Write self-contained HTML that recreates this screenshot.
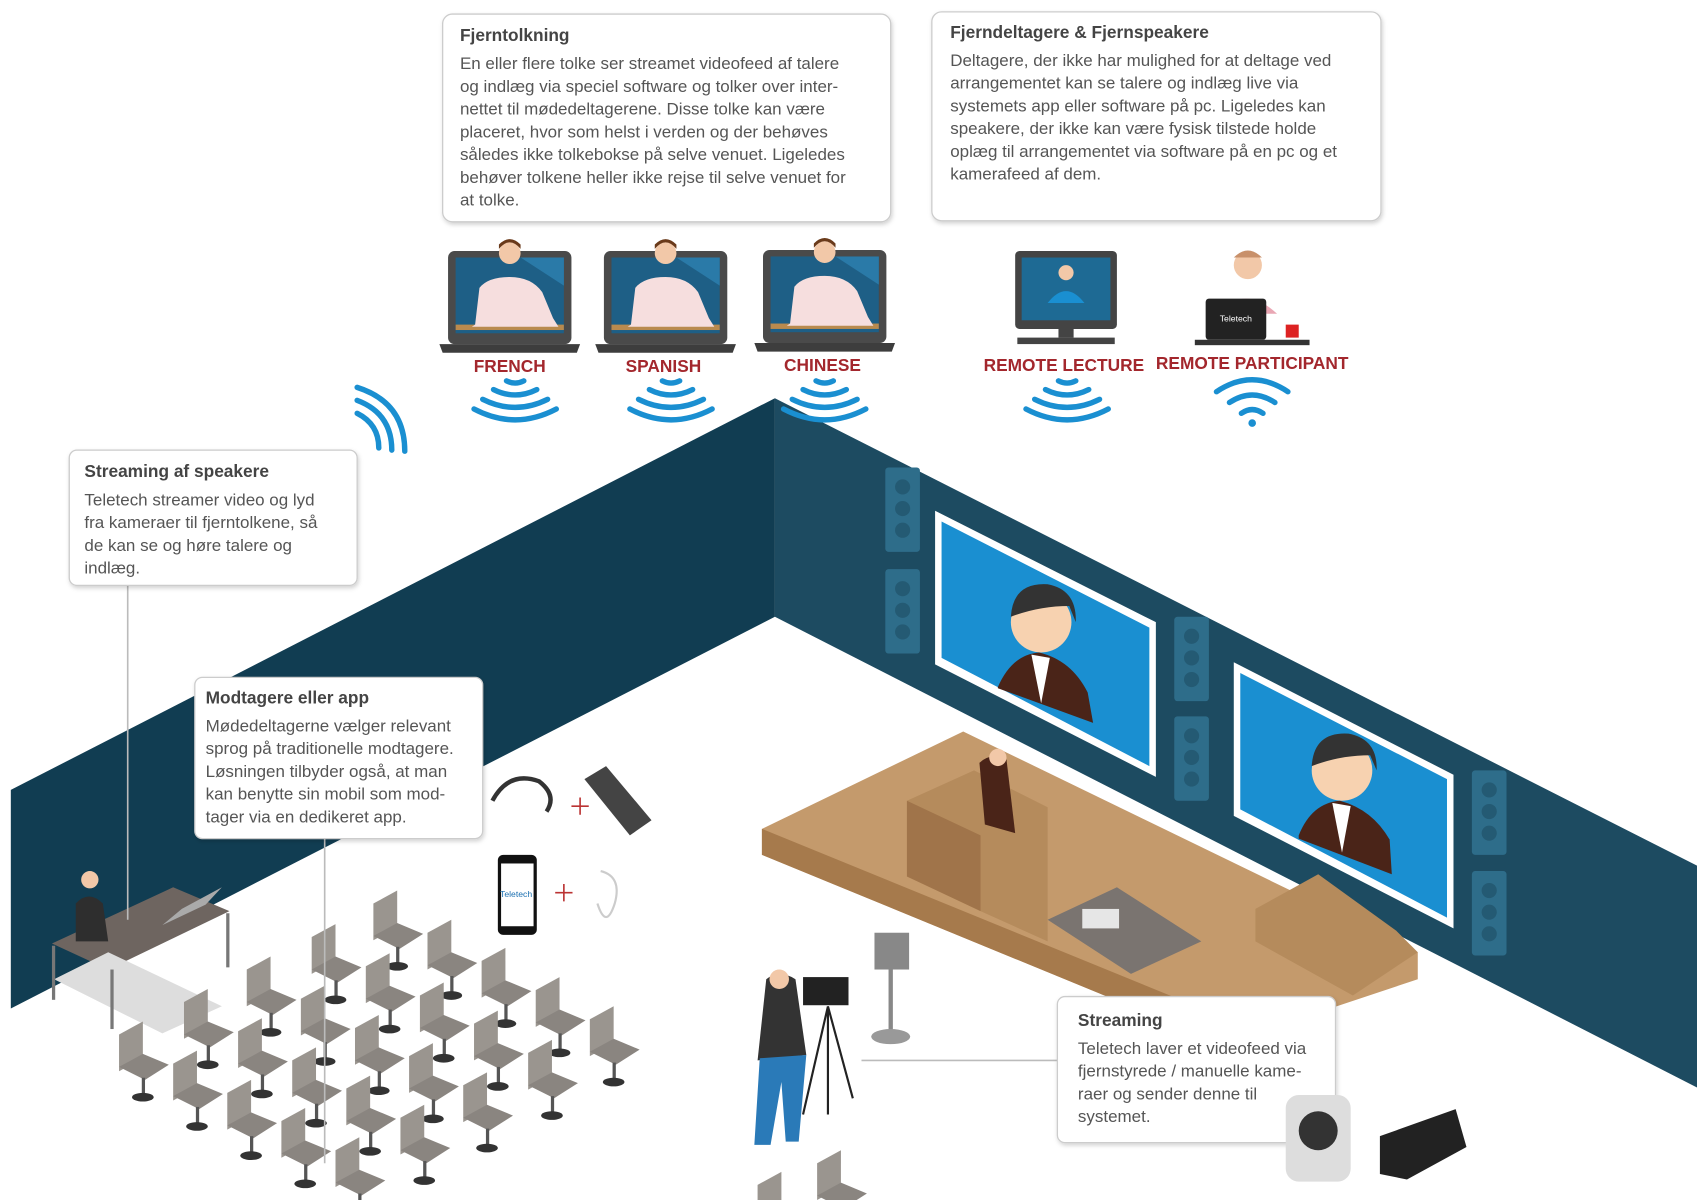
<!DOCTYPE html>
<html><head><meta charset="utf-8"><style>
html,body{margin:0;padding:0;background:#fff;}
svg{display:block}
.t{font-family:"Liberation Sans",sans-serif;font-size:15.7px;fill:#555}
.h{font-family:"Liberation Sans",sans-serif;font-size:16px;font-weight:bold;fill:#444}
.r{font-family:"Liberation Sans",sans-serif;font-size:16px;font-weight:bold;fill:#a3272d}
</style></head><body>
<svg width="1697" height="1200" viewBox="0 0 1568 1109" preserveAspectRatio="none" xmlns="http://www.w3.org/2000/svg">
<defs>
<filter id="sh" x="-5%" y="-5%" width="110%" height="115%"><feDropShadow dx="1" dy="2" stdDeviation="2" flood-color="#000" flood-opacity="0.18"/></filter>
<g id="wifi" fill="none" stroke="#1a8fd1" stroke-width="5" stroke-linecap="round">
<path d="M-8,-18 Q0,-14 8,-18"/><path d="M-20,-10 Q0,0 20,-10"/><path d="M-30,-1 Q0,14 30,-1"/><path d="M-38,8 Q0,28 38,8"/>
</g>
<g id="lap">
<rect x="-57" y="-42" width="114" height="86" rx="6" fill="#4a4a4a"/>
<rect x="-50" y="-36" width="100" height="70" fill="#1e5f86"/>
<path d="M10,-36 L50,-36 L50,-10 Z" fill="#2a7aa8"/>
<rect x="-50" y="26" width="100" height="5" fill="#b98a4e"/>
<path d="M-32,26 L-28,-8 Q-20,-18 0,-18 Q20,-18 30,-4 L40,20 L45,28 L-35,28 Z" fill="#f6dede"/>
<circle cx="0" cy="-40" r="10" fill="#f2c8a8"/><path d="M-10,-44 Q0,-56 10,-44 L10,-48 Q0,-58 -10,-48Z" fill="#6a3a1a"/>
<path d="M-65,44 L65,44 L62,52 L-62,52 Z" fill="#3d3d3d"/>
</g>
<g id="chair" fill="#8a8580">
<path d="M0,0 L22,-12 L22,22 L0,34 Z" fill="#9a958f"/>
<path d="M0,30 L22,18 L46,28 L24,42 Z"/>
<rect x="21" y="40" width="3" height="16" fill="#555"/>
<ellipse cx="22" cy="58" rx="10" ry="4" fill="#333"/>
</g>
<g id="spk" fill="#2e6d8a"><rect width="32" height="78" rx="3"/><circle cx="16" cy="18" r="7" fill="#245a73"/><circle cx="16" cy="38" r="7" fill="#245a73"/><circle cx="16" cy="58" r="7" fill="#245a73"/></g>
</defs>

<polygon points="10,730 716,368 716,570 10,932" fill="#113d52"/>
<polygon points="716,368 1568,800 1568,1005 716,570" fill="#1d4b61"/>

<use href="#spk" x="818" y="432"/><use href="#spk" x="818" y="526"/>
<use href="#spk" x="1085" y="570"/><use href="#spk" x="1085" y="662"/>
<use href="#spk" x="1360" y="712"/><use href="#spk" x="1360" y="805"/>
<polygon points="864,472 1068,575 1068,718 864,614" fill="#fff"/>
<polygon points="870,482 1062,580 1062,708 870,608" fill="#1a8fd1"/>
<polygon points="1140,612 1343,716 1343,858 1140,754" fill="#fff"/>
<polygon points="1146,622 1337,720 1337,848 1146,748" fill="#1a8fd1"/>
<g><circle cx="962" cy="575" r="28" fill="#f7d2b0"/><path d="M934,570 Q936,538 968,540 Q995,545 994,575 L988,560 Q960,560 934,570Z" fill="#333"/>
<path d="M922,635 Q935,605 960,603 Q990,610 1005,640 L1010,668 L922,636Z" fill="#4a2418"/><path d="M953,605 L962,650 L970,608Z" fill="#fff"/></g>
<g><circle cx="1240" cy="712" r="28" fill="#f7d2b0"/><path d="M1212,708 Q1214,676 1246,678 Q1273,683 1272,712 L1266,698 Q1238,698 1212,708Z" fill="#333"/>
<path d="M1200,772 Q1212,742 1238,740 Q1268,748 1284,776 L1286,808 L1200,775Z" fill="#4a2418"/><path d="M1231,742 L1240,788 L1248,745Z" fill="#fff"/></g>

<polygon points="704,766 890,676 1310,880 1310,905 1130,965 704,790" fill="#c49a6c"/>
<polygon points="704,766 1130,940 1130,965 704,790" fill="#a67a4c"/>
<polygon points="1160,840 1218,808 1290,860 1310,880 1250,920 1160,870" fill="#b58b5c"/>
<polygon points="838,740 900,712 968,746 968,870 906,842 838,810" fill="#b58b5c"/>
<polygon points="838,740 906,772 906,842 838,810" fill="#a0744a"/>
<polygon points="968,850 1032,820 1110,870 1045,900" fill="#7a7470"/>
<rect x="1000" y="840" width="34" height="18" fill="#e6e6e6"/>
<path d="M905,705 Q915,695 930,702 L938,770 L910,762Z" fill="#4a2418"/><circle cx="922" cy="700" r="8" fill="#f2c8a8"/>

<polygon points="48,872 160,820 212,842 100,896" fill="#6e6560"/>
<polygon points="50,905 100,880 205,930 150,955" fill="#ddd"/>
<rect x="48" y="874" width="3" height="50" fill="#777"/><rect x="102" y="896" width="3" height="55" fill="#777"/><rect x="209" y="844" width="3" height="50" fill="#777"/>
<polygon points="150,855 190,836 205,820 168,840" fill="#aaa"/>
<path d="M70,835 Q82,822 95,835 L100,870 L70,870Z" fill="#2e2e2e"/><circle cx="83" cy="813" r="8" fill="#f2c8a8"/>

<g>
<use href="#chair" x="345" y="835"/><use href="#chair" x="395" y="862"/><use href="#chair" x="445" y="888"/><use href="#chair" x="495" y="915"/><use href="#chair" x="545" y="942"/>
<use href="#chair" x="288" y="866"/><use href="#chair" x="338" y="893"/><use href="#chair" x="388" y="920"/><use href="#chair" x="438" y="946"/><use href="#chair" x="488" y="973"/>
<use href="#chair" x="228" y="896"/><use href="#chair" x="278" y="923"/><use href="#chair" x="328" y="950"/><use href="#chair" x="378" y="976"/><use href="#chair" x="428" y="1003"/>
<use href="#chair" x="170" y="926"/><use href="#chair" x="220" y="953"/><use href="#chair" x="270" y="980"/><use href="#chair" x="320" y="1006"/><use href="#chair" x="370" y="1033"/>
<use href="#chair" x="110" y="956"/><use href="#chair" x="160" y="983"/><use href="#chair" x="210" y="1010"/><use href="#chair" x="260" y="1036"/><use href="#chair" x="310" y="1063"/>
<use href="#chair" x="755" y="1075"/><use href="#chair" x="700" y="1095"/>
</g>

<path d="M708,905 Q720,895 735,905 L745,975 L700,980Z" fill="#333"/><circle cx="720" cy="905" r="9" fill="#f2c8a8"/>
<path d="M702,978 L745,975 L738,1055 L726,1055 L722,1000 L712,1058 L697,1058Z" fill="#2a7ab8"/>
<rect x="742" y="903" width="42" height="26" fill="#222"/>
<path d="M765,930 L742,1030 M765,930 L765,1030 M765,930 L788,1015" stroke="#222" stroke-width="2"/>
<rect x="808" y="862" width="32" height="34" fill="#888"/><path d="M823,896 V955" stroke="#888" stroke-width="4"/><ellipse cx="823" cy="958" rx="18" ry="7" fill="#999"/>
<path d="M796,980 H977" stroke="#bbb" stroke-width="1.5"/>
<path d="M118,541 V850 M300,775 V1075" stroke="#bbb" stroke-width="1.5"/>

<rect x="460" y="790" width="36" height="74" rx="5" fill="#111"/><rect x="463" y="798" width="30" height="58" fill="#fff"/>
<text x="462" y="829" font-family="Liberation Sans,sans-serif" font-size="8" fill="#1a6fb0">Teletech</text>
<path d="M540,720 L560,708 L602,758 L582,772Z" fill="#444"/>
<path d="M455,740 Q470,712 498,722 Q515,735 505,750" fill="none" stroke="#333" stroke-width="4"/>
<path d="M528,745 h16 M536,737 v16 M513,825 h16 M521,817 v16" stroke="#b33" stroke-width="1.5"/>
<path d="M555,805 Q575,810 568,835 Q560,860 552,835" fill="none" stroke="#ccc" stroke-width="2"/>
<path d="M1275,1050 L1345,1025 L1355,1060 L1300,1090 L1275,1085Z" fill="#222"/>

<use href="#lap" x="471" y="274"/><use href="#lap" x="615" y="274"/><use href="#lap" x="762" y="273"/>
<rect x="938" y="232" width="94" height="72" rx="4" fill="#444"/><rect x="944" y="238" width="82" height="58" fill="#1e6a94"/>
<circle cx="985" cy="252" r="7" fill="#f2c8a8"/><path d="M968,280 Q985,258 1002,280Z" fill="#1a8fd1"/>
<rect x="978" y="304" width="14" height="8" fill="#444"/><rect x="940" y="312" width="90" height="6" fill="#444"/>
<circle cx="1153" cy="245" r="13" fill="#f2c8a8"/><path d="M1140,238 Q1153,225 1166,238Z" fill="#c8906a"/><path d="M1125,290 Q1150,262 1180,290Z" fill="#e9a7b4"/>
<rect x="1114" y="276" width="56" height="38" rx="3" fill="#222"/>
<text x="1127" y="297" font-family="Liberation Sans,sans-serif" font-size="8" fill="#fff">Teletech</text>
<rect x="1104" y="314" width="106" height="5" fill="#333"/><rect x="1188" y="300" width="12" height="12" fill="#d22"/>

<g text-anchor="middle">
<text class="r" x="471" y="344">FRENCH</text><text class="r" x="613" y="344">SPANISH</text><text class="r" x="760" y="343">CHINESE</text>
<text class="r" x="983" y="343">REMOTE LECTURE</text><text class="r" x="1157" y="341">REMOTE PARTICIPANT</text>
</g>
<use href="#wifi" x="476" y="370"/><use href="#wifi" x="620" y="370"/><use href="#wifi" x="762" y="370"/><use href="#wifi" x="986" y="370"/>
<g fill="none" stroke="#1a8fd1" stroke-width="5" stroke-linecap="round">
<path d="M1147,382 Q1157,375 1167,382"/><path d="M1136,372 Q1157,358 1178,372"/><path d="M1124,362 Q1157,340 1190,362"/>
<path d="M330,382 Q350,392 350,414"/><path d="M330,370 Q362,382 362,416"/><path d="M330,358 Q374,372 374,417"/>
</g>
<circle cx="1157" cy="391" r="3.5" fill="#1a8fd1"/>

<g filter="url(#sh)" fill="#fff" stroke="#ccc" stroke-width="1.2">
<rect x="409" y="13" width="414" height="192" rx="9"/>
<rect x="861" y="11" width="415" height="193" rx="9"/>
<rect x="64" y="416" width="266" height="125" rx="7"/>
<rect x="180" y="626" width="266" height="149" rx="7"/>
<rect x="977" y="921" width="257" height="135" rx="7"/>
</g>
<text class="h" x="425" y="38">Fjerntolkning</text>
<g class="t"><text x="425" y="64">En eller flere tolke ser streamet videofeed af talere</text><text x="425" y="85">og indlæg via speciel software og tolker over inter-</text><text x="425" y="106">nettet til mødedeltagerene. Disse tolke kan være</text><text x="425" y="127">placeret, hvor som helst i verden og der behøves</text><text x="425" y="148">således ikke tolkebokse på selve venuet. Ligeledes</text><text x="425" y="169">behøver tolkene heller ikke rejse til selve venuet for</text><text x="425" y="190">at tolke.</text></g>
<text class="h" x="878" y="35">Fjerndeltagere &amp; Fjernspeakere</text>
<g class="t"><text x="878" y="61">Deltagere, der ikke har mulighed for at deltage ved</text><text x="878" y="82">arrangementet kan se talere og indlæg live via</text><text x="878" y="103">systemets app eller software på pc. Ligeledes kan</text><text x="878" y="124">speakere, der ikke kan være fysisk tilstede holde</text><text x="878" y="145">oplæg til arrangementet via software på en pc og et</text><text x="878" y="166">kamerafeed af dem.</text></g>
<text class="h" x="78" y="441">Streaming af speakere</text>
<g class="t"><text x="78" y="467">Teletech streamer video og lyd</text><text x="78" y="488">fra kameraer til fjerntolkene, så</text><text x="78" y="509">de kan se og høre talere og</text><text x="78" y="530">indlæg.</text></g>
<text class="h" x="190" y="650">Modtagere eller app</text>
<g class="t"><text x="190" y="676">Mødedeltagerne vælger relevant</text><text x="190" y="697">sprog på traditionelle modtagere.</text><text x="190" y="718">Løsningen tilbyder også, at man</text><text x="190" y="739">kan benytte sin mobil som mod-</text><text x="190" y="760">tager via en dedikeret app.</text></g>
<text class="h" x="996" y="948">Streaming</text>
<g class="t"><text x="996" y="974">Teletech laver et videofeed via</text><text x="996" y="995">fjernstyrede / manuelle kame-</text><text x="996" y="1016">raer og sender denne til</text><text x="996" y="1037">systemet.</text></g>
<rect x="1188" y="1012" width="60" height="80" rx="12" fill="#ddd"/><circle cx="1218" cy="1045" r="18" fill="#333"/>
</svg>
</body></html>
